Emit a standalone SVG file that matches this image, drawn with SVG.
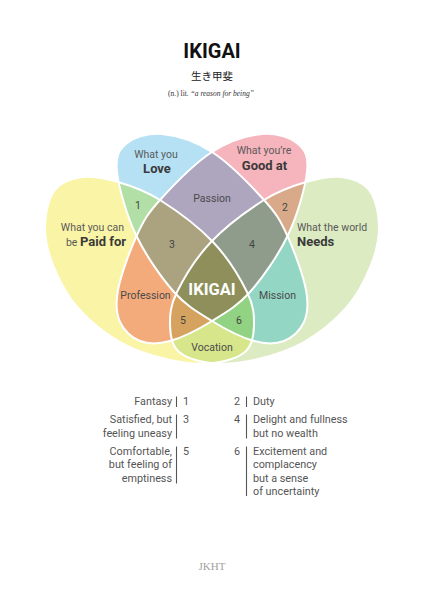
<svg xmlns="http://www.w3.org/2000/svg" xmlns:xlink="http://www.w3.org/1999/xlink" width="424" height="600" viewBox="0 0 424 600">
<style>
.t{font-family:Roboto,"Liberation Sans",sans-serif;fill:#5a5a5a;font-size:10.5px}
.b{font-weight:bold;fill:#3a3a3a;font-size:13px}
.r{font-family:Roboto,"Liberation Sans",sans-serif;fill:#4a4a4a;font-size:10.5px;text-anchor:middle}
.n{font-family:Roboto,"Liberation Sans",sans-serif;fill:#444;font-size:10.5px;text-anchor:middle}
.leg{font-family:Roboto,"Liberation Sans",sans-serif;fill:#555;font-size:10.8px}
.bar{stroke:#555;stroke-width:1.1}
.out{fill:none;stroke:#fff;stroke-width:2}
</style>
<defs>
<path id="pGood" d="M212,152 C229,141 247.7,135.3 262,134 C276.3,132.7 290.5,137.7 298,144 C305.5,150.3 308.7,156.8 307,172 C305.3,187.2 297.5,215 288,235 C278.5,255 262.7,277.7 250,292 C237.3,306.3 225.3,312.8 212,321 C198.7,329.2 182,337.7 170,341 C158,344.3 148.3,344.2 140,341 C131.7,337.8 123.7,330.5 120,322 C116.3,313.5 115.2,304.5 118,290 C120.8,275.5 130,250 137,235 C144,220 147.5,213.8 160,200 C172.5,186.2 195,163 212,152 Z"/>
<path id="pLove" transform="matrix(-1 0 0 1 424 0)" d="M212,152 C229,141 247.7,135.3 262,134 C276.3,132.7 290.5,137.7 298,144 C305.5,150.3 308.7,156.8 307,172 C305.3,187.2 297.5,215 288,235 C278.5,255 262.7,277.7 250,292 C237.3,306.3 225.3,312.8 212,321 C198.7,329.2 182,337.7 170,341 C158,344.3 148.3,344.2 140,341 C131.7,337.8 123.7,330.5 120,322 C116.3,313.5 115.2,304.5 118,290 C120.8,275.5 130,250 137,235 C144,220 147.5,213.8 160,200 C172.5,186.2 195,163 212,152 Z"/>
<path id="pPaid" d="M45,225 C45.3,212.5 48.8,198 55,190 C61.2,182 71.5,178.3 82,177 C92.5,175.7 105,178.2 118,182 C131,185.8 144.2,190 160,200 C175.8,210 198.5,226.7 213,242 C227.5,257.3 240.2,278.2 247,292 C253.8,305.8 254.2,315.2 254,325 C253.8,334.8 252.8,344.7 246,351 C239.2,357.3 225.7,361.5 213,363 C200.3,364.5 185.5,363.5 170,360 C154.5,356.5 135.3,350.7 120,342 C104.7,333.3 89.2,320.8 78,308 C66.8,295.2 58.5,278.8 53,265 C47.5,251.2 44.7,237.5 45,225 Z"/>
<path id="pNeeds" transform="matrix(-1 0 0 1 424 0)" d="M45,225 C45.3,212.5 48.8,198 55,190 C61.2,182 71.5,178.3 82,177 C92.5,175.7 105,178.2 118,182 C131,185.8 144.2,190 160,200 C175.8,210 198.5,226.7 213,242 C227.5,257.3 240.2,278.2 247,292 C253.8,305.8 254.2,315.2 254,325 C253.8,334.8 252.8,344.7 246,351 C239.2,357.3 225.7,361.5 213,363 C200.3,364.5 185.5,363.5 170,360 C154.5,356.5 135.3,350.7 120,342 C104.7,333.3 89.2,320.8 78,308 C66.8,295.2 58.5,278.8 53,265 C47.5,251.2 44.7,237.5 45,225 Z"/>
<clipPath id="cLove"><use href="#pLove"/></clipPath>
<clipPath id="cGood"><use href="#pGood"/></clipPath>
<clipPath id="cPaid"><use href="#pPaid"/></clipPath>
<clipPath id="cNeeds"><use href="#pNeeds"/></clipPath>
</defs>
<rect width="424" height="600" fill="#fff"/>

<g id="title">
<text x="212" y="58" text-anchor="middle" font-family="Roboto, 'Liberation Sans', sans-serif" font-weight="bold" font-size="20" fill="#111">IKIGAI</text>
<text x="212" y="80" text-anchor="middle" font-family="'Noto Sans CJK JP', 'Noto Sans CJK SC', sans-serif" font-size="10.5" fill="#222">生き甲斐</text>
<text x="211" y="96" text-anchor="middle" font-family="'Liberation Serif', serif" font-size="7.5" fill="#333">(n.) lit. <tspan font-style="italic">“a reason for being”</tspan></text>
</g>

<g id="petals">
<use id="paid" href="#pPaid" fill="#faf4a6"/>
<use id="needs" href="#pNeeds" fill="#dcebc1"/>
<use id="love" href="#pLove" fill="#b6e1f5"/>
<use id="good" href="#pGood" fill="#f6b5bd"/>
</g>

<g id="pairs">
<use id="passion" href="#pGood" clip-path="url(#cLove)" fill="#aea6bf"/>
<use id="r1" href="#pPaid" clip-path="url(#cLove)" fill="#b2dfa6"/>
<use id="r2" href="#pNeeds" clip-path="url(#cGood)" fill="#d9aa8a"/>
<use id="mission" href="#pNeeds" clip-path="url(#cLove)" fill="#93d6c3"/>
<use id="profession" href="#pPaid" clip-path="url(#cGood)" fill="#f4ab7c"/>
<use id="vocation" href="#pPaid" clip-path="url(#cNeeds)" fill="#d8e68b"/>
</g>

<g id="triples">
<g id="r3" clip-path="url(#cPaid)"><use href="#pGood" clip-path="url(#cLove)" fill="#aba27f"/></g>
<g id="r4" clip-path="url(#cNeeds)"><use href="#pGood" clip-path="url(#cLove)" fill="#8f9b8b"/></g>
<g id="r5" clip-path="url(#cNeeds)"><use href="#pGood" clip-path="url(#cPaid)" fill="#d5a35f"/></g>
<g id="r6" clip-path="url(#cNeeds)"><use href="#pLove" clip-path="url(#cPaid)" fill="#92d283"/></g>
</g>

<g id="ikigai" clip-path="url(#cNeeds)"><g clip-path="url(#cPaid)"><use href="#pGood" clip-path="url(#cLove)" fill="#8e8f5b"/></g></g>

<g id="outlines">
<use class="out" href="#pPaid"/>
<use class="out" href="#pNeeds"/>
<use class="out" href="#pLove"/>
<use class="out" href="#pGood"/>
</g>

<g id="labels">
<text class="t" x="156" y="157.5" text-anchor="middle">What you</text>
<text class="t b" x="157" y="173" text-anchor="middle">Love</text>
<text class="t" x="264" y="154" text-anchor="middle">What you’re</text>
<text class="t b" x="264.5" y="169.5" text-anchor="middle">Good at</text>
<text class="t" x="124" y="231" text-anchor="end">What you can</text>
<text class="t" x="126" y="246" text-anchor="end">be <tspan class="b">Paid for</tspan></text>
<text class="t" x="297" y="231">What the world</text>
<text class="t b" x="297" y="246">Needs</text>
<text class="r" x="212" y="202">Passion</text>
<text class="r" x="145.5" y="299">Profession</text>
<text class="r" x="277.5" y="299">Mission</text>
<text class="r" x="212" y="351">Vocation</text>
<text class="n" x="138" y="209">1</text>
<text class="n" x="285" y="211">2</text>
<text class="n" x="172" y="248">3</text>
<text class="n" x="252" y="248">4</text>
<text class="n" x="183" y="324">5</text>
<text class="n" x="239" y="324">6</text>
<text x="212" y="295" text-anchor="middle" font-family="Roboto, 'Liberation Sans', sans-serif" font-weight="bold" font-size="16.5" fill="#fff">IKIGAI</text>
</g>

<g id="legend">
<text class="leg" x="172" y="405" text-anchor="end">Fantasy</text>
<line class="bar" x1="176.5" y1="396.5" x2="176.5" y2="407"/>
<text class="leg" x="183" y="405">1</text>
<text class="leg" x="172" y="423.3" text-anchor="end">Satisfied, but</text>
<text class="leg" x="172" y="436.7" text-anchor="end">feeling uneasy</text>
<line class="bar" x1="176.5" y1="414.5" x2="176.5" y2="438.5"/>
<text class="leg" x="183" y="423.3">3</text>
<text class="leg" x="172" y="455" text-anchor="end">Comfortable,</text>
<text class="leg" x="172" y="468.3" text-anchor="end">but feeling of</text>
<text class="leg" x="172" y="481.7" text-anchor="end">emptiness</text>
<line class="bar" x1="176.5" y1="446.5" x2="176.5" y2="483.5"/>
<text class="leg" x="183" y="455">5</text>
<text class="leg" x="240" y="405" text-anchor="end">2</text>
<line class="bar" x1="246.5" y1="396.5" x2="246.5" y2="407"/>
<text class="leg" x="253" y="405">Duty</text>
<text class="leg" x="240" y="423.3" text-anchor="end">4</text>
<line class="bar" x1="246.5" y1="414.5" x2="246.5" y2="438.5"/>
<text class="leg" x="253" y="423.3">Delight and fullness</text>
<text class="leg" x="253" y="436.7">but no wealth</text>
<text class="leg" x="240" y="455" text-anchor="end">6</text>
<line class="bar" x1="246.5" y1="446.5" x2="246.5" y2="496"/>
<text class="leg" x="253" y="455">Excitement and</text>
<text class="leg" x="253" y="468.3">complacency</text>
<text class="leg" x="253" y="481.7">but a sense</text>
<text class="leg" x="253" y="495">of uncertainty</text>
</g>

<g id="footer">
<text x="212" y="570" text-anchor="middle" font-family="'Liberation Serif', serif" font-size="11" fill="#a0a0a0">JKHT</text>
</g>
</svg>
